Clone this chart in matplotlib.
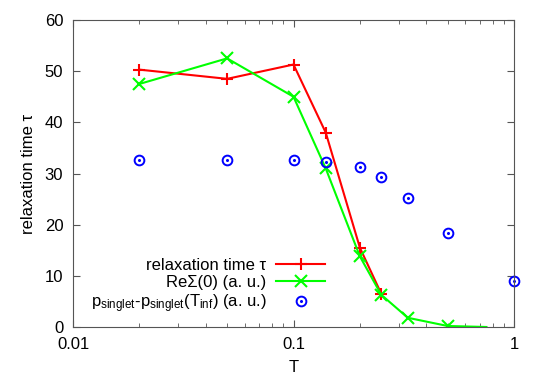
import numpy as np
import matplotlib
matplotlib.use("Agg")
import matplotlib.pyplot as plt
from matplotlib.legend_handler import HandlerTuple

plt.rcParams["font.family"] = ["Liberation Sans", "DejaVu Sans"]
plt.rcParams["mathtext.default"] = "regular"

# relaxation time tau
T_tau = [0.02, 0.05, 0.1, 0.14, 0.2, 0.25]
tau = [50.3, 48.5, 51.3, 38.0, 15.5, 6.5]

# Re Sigma(0)
T_sig = [0.02, 0.05, 0.1, 0.14, 0.2, 0.25, 0.33, 0.5, 0.75]
sig = [47.5, 52.5, 45.0, 31.0, 13.8, 6.3, 1.8, 0.2, 0.0]

# p_singlet - p_singlet(T_inf)
T_p = [0.02, 0.05, 0.1, 0.14, 0.2, 0.25, 0.33, 0.5, 1.0]
p = [32.7, 32.7, 32.6, 32.3, 31.2, 29.3, 25.3, 18.4, 9.0]

fig = plt.figure(figsize=(5.38, 3.77), dpi=100)
ax = fig.add_axes([73 / 538, 1 - 327 / 377, (514 - 73) / 538, (327 - 20) / 377])

l1, = ax.plot(T_tau, tau, color="#ff0000", marker="+", ms=9, mew=1.5, lw=1.5)
l2, = ax.plot(T_sig, sig, color="#00ff00", marker="x", ms=8, mew=1.5, lw=1.5,
              markevery=list(range(len(T_sig) - 1)))
c1, = ax.plot(T_p, p, ls="none", marker="o", ms=7, mfc="none", mec="#0000ff", mew=1.4,
              clip_on=False)
c2, = ax.plot(T_p, p, ls="none", marker="o", ms=1.2, mfc="#0000ff", mec="#0000ff",
              clip_on=False)

ax.set_xscale("log")
ax.set_xlim(0.01, 1)
ax.set_ylim(0, 60)
ax.set_xticks([0.01, 0.1, 1])
ax.set_xticklabels(["0.01", "0.1", "1"])
ax.set_yticks(range(0, 61, 10))
ax.tick_params(which="both", direction="in", top=True, right=True, labelsize=12,
               color="#555555")
ax.tick_params(axis="x", pad=7)
ax.tick_params(axis="y", pad=7)
ax.tick_params(which="major", length=5)
ax.tick_params(which="minor", length=3)
for s in ax.spines.values():
    s.set_color("#555555")

ax.set_xlabel("T", fontsize=12, labelpad=6)
ax.set_ylabel("relaxation time \u03c4", fontsize=12, labelpad=6)

ax.legend([l1, l2, (c1, c2)],
          ["relaxation time \u03c4", "Re\u03a3(0) (a. u.)",
           "p$_{singlet}$-p$_{singlet}$(T$_{inf}$) (a. u.)"],
          handler_map={tuple: HandlerTuple(ndivide=1, pad=0)},
          markerfirst=False, frameon=False, fontsize=12,
          loc="lower right", bbox_to_anchor=(0.571, 0.04),
          handlelength=2.9, handletextpad=0.6, labelspacing=0.12,
          borderaxespad=0, borderpad=0)

fig.savefig("out.png", dpi=100)
